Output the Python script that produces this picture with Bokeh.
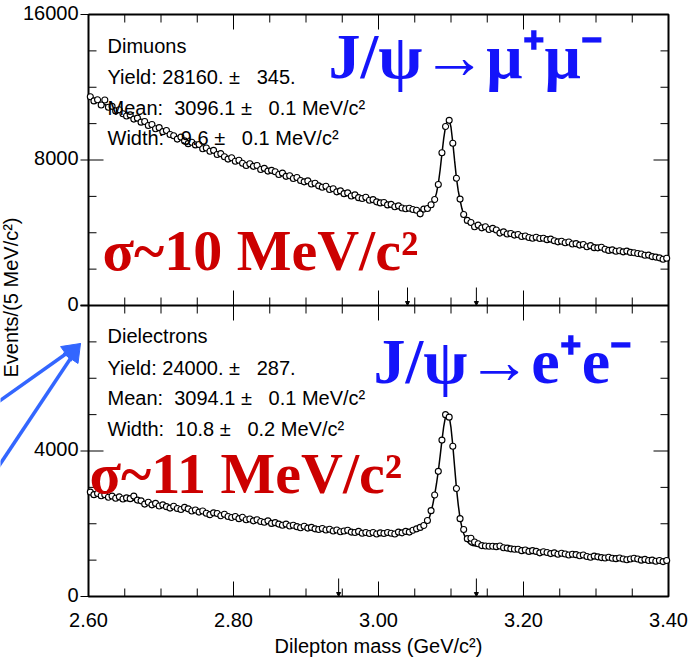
import math
from bokeh.plotting import figure
from bokeh.models import Range1d, Label, Arrow, NormalHead
from bokeh.embed import file_html
from bokeh.resources import INLINE

# ---------------- data ----------------
bin_lo, bin_width, n_bins = 2.600, 0.005, 160
mass = [round(bin_lo + bin_width * (i + 0.5), 4) for i in range(n_bins)]

dimuon_counts = [
    11480, 11250, 11310, 11020, 11300, 10900, 10950, 10700, 10760, 10540,
    10420, 10480, 10250, 10300, 10080, 10120, 9900, 9950, 9720, 9780,
    9560, 9620, 9400, 9330, 9150, 9260, 9050, 8900, 8980, 8830,
    8850, 8620, 8660, 8480, 8530, 8300, 8350, 8180, 8050, 8120,
    7930, 7990, 7820, 7700, 7790, 7650, 7700, 7480, 7540, 7390,
    7430, 7350, 7200, 7280, 7100, 7130, 6980, 7040, 6870, 6800,
    6850, 6680, 6720, 6580, 6500, 6560, 6380, 6420, 6250, 6300,
    6150, 6190, 6020, 6080, 5930, 5880, 5950, 5790, 5820, 5700,
    5640, 5660, 5530, 5560, 5430, 5480, 5360, 5320, 5350, 5280,
    5240, 5040, 5300, 5330, 5540, 5830, 6650, 8400, 9840, 10180,
    8920, 7000, 5850, 5000, 4680, 4560, 4330, 4420, 4270, 4330,
    4180, 4240, 4150, 3980, 4050, 3930, 3960, 3870, 3900, 3790,
    3820, 3740, 3700, 3750, 3680, 3700, 3620, 3650, 3560, 3500,
    3530, 3450, 3490, 3380, 3400, 3320, 3350, 3230, 3290, 3180,
    3170, 3200, 3090, 3030, 3060, 2980, 3010, 2950, 2990, 2920,
    2900, 2860, 2830, 2760, 2770, 2690, 2660, 2620, 2540, 2600]

dimuon_fit_x = [2.60, 2.62, 2.64, 2.66, 2.68, 2.70, 2.72, 2.74, 2.76, 2.78,
                2.80, 2.82, 2.84, 2.86, 2.88, 2.90, 2.92, 2.94, 2.96, 2.98,
                3.00, 3.02, 3.04, 3.05, 3.06, 3.0625, 3.065, 3.0675, 3.07, 3.0725,
                3.075, 3.0775, 3.08, 3.0825, 3.085, 3.0875, 3.09, 3.0925, 3.095, 3.0975,
                3.10, 3.1025, 3.105, 3.1075, 3.11, 3.1125, 3.115, 3.1175, 3.12, 3.1225,
                3.125, 3.1275, 3.13, 3.135, 3.14, 3.16, 3.18, 3.20, 3.22, 3.24,
                3.26, 3.28, 3.30, 3.32, 3.34, 3.36, 3.38, 3.40]
dimuon_fit_y = [11450, 11090, 10730, 10370, 10020, 9670, 9320, 8970, 8650, 8340,
                8020, 7760, 7520, 7290, 7060, 6820, 6580, 6340, 6110, 5900,
                5700, 5500, 5350, 5290, 5250, 5270, 5300, 5340, 5400, 5490,
                5620, 5850, 6180, 6700, 7450, 8350, 9200, 9850, 10200, 10220,
                9800, 8950, 7950, 7000, 6300, 5800, 5330, 5000, 4780, 4640,
                4560, 4500, 4450, 4380, 4320, 4140, 3930, 3810, 3690, 3570,
                3450, 3320, 3190, 3060, 2950, 2830, 2700, 2570]

dielectron_counts = [
    2870, 2800, 2830, 2770, 2800, 2730, 2760, 2700, 2740, 2680,
    2710, 2690, 2760, 2650, 2630, 2540, 2590, 2520, 2560, 2490,
    2520, 2470, 2430, 2480, 2420, 2390, 2450, 2410, 2350, 2380,
    2320, 2350, 2290, 2250, 2300, 2280, 2220, 2260, 2200, 2170,
    2200, 2140, 2180, 2110, 2130, 2080, 2110, 2060, 2040, 2080,
    2010, 2030, 1990, 1960, 1990, 1940, 1960, 1920, 1890, 1930,
    1880, 1900, 1860, 1840, 1870, 1830, 1850, 1800, 1830, 1780,
    1800, 1820, 1770, 1760, 1790, 1740, 1760, 1730, 1760, 1720,
    1750, 1730, 1760, 1740, 1720, 1770, 1750, 1790, 1770, 1820,
    1860, 1900, 1950, 2090, 2360, 2790, 3440, 4300, 5000, 4930,
    4130, 2970, 2140, 1840, 1590, 1600, 1500, 1450, 1400, 1390,
    1380, 1380, 1370, 1390, 1340, 1330, 1310, 1300, 1300, 1260,
    1280, 1240, 1260, 1240, 1200, 1230, 1210, 1180, 1200, 1160,
    1190, 1170, 1140, 1160, 1150, 1120, 1140, 1100, 1080, 1110,
    1090, 1070, 1060, 1080, 1050, 1040, 1060, 1030, 1010, 1030,
    1050, 1030, 1000, 1020, 990, 1000, 970, 990, 960, 990]

dielectron_fit_x = dimuon_fit_x
dielectron_fit_y = [2850, 2790, 2720, 2650, 2580, 2510, 2450, 2390, 2320, 2250,
                    2190, 2130, 2070, 2010, 1950, 1900, 1860, 1820, 1790, 1760,
                    1740, 1740, 1770, 1810, 1880, 1910, 1960, 2040, 2160, 2330,
                    2540, 2800, 3100, 3450, 3860, 4290, 4680, 4950, 5040, 4950,
                    4640, 4150, 3560, 2980, 2520, 2150, 1900, 1730, 1600, 1510,
                    1455, 1420, 1400, 1385, 1370, 1340, 1310, 1260, 1220, 1185,
                    1155, 1120, 1090, 1060, 1035, 1010, 990, 970]

x_major = [2.60, 2.80, 3.00, 3.20, 3.40]
x_minor = [2.65, 2.70, 2.75, 2.85, 2.90, 2.95, 3.05, 3.10, 3.15, 3.25, 3.30, 3.35]
top_y_major = [0, 8000, 16000]
top_y_minor = [2000, 4000, 6000, 10000, 12000, 14000]
bot_y_major = [0, 4000]
bot_y_minor = [1000, 2000, 3000, 5000, 6000, 7000]
top_window = [3.04, 3.135]
bot_window = [2.945, 3.135]

NB = "\u00a0"
top_info = ["Dimuons", f"Yield: 28160. \u00b1{NB}{NB} 345.",
            f"Mean:{NB} 3096.1 \u00b1{NB}{NB} 0.1 MeV/c\u00b2",
            f"Width:{NB}{NB} 9.6 \u00b1{NB}{NB} 0.1 MeV/c\u00b2"]
bot_info = ["Dielectrons", f"Yield: 24000. \u00b1{NB}{NB} 287.",
            f"Mean:{NB} 3094.1 \u00b1{NB}{NB} 0.1 MeV/c\u00b2",
            f"Width:{NB} 10.8 \u00b1{NB}{NB} 0.2 MeV/c\u00b2"]
top_title = "J/\u03c8\u2192\u03bc\u207a\u03bc\u207b"
bot_title = "J/\u03c8\u2192e\u207ae\u207b"
top_res = "\u03c3~10 MeV/c\u00b2"
bot_res = "\u03c3~11 MeV/c\u00b2"
x_title = "Dilepton mass (GeV/c\u00b2)"
y_title = "Events/(5 MeV/c\u00b2)"

# ---------------- layout constants (page pixels) ----------------
W, H = 688, 661
BOX_L, BOX_R, BOX_T, BOX_B = 88, 668, 14, 596
X_LO, X_HI = 2.60, 3.40
TOP_LO, TOP_HI = -16000, 16000          # upper panel occupies the upper half of this range
BOT_LO, BOT_HI = 0, 16000               # lower panel occupies the lower half of this range
KX = (X_HI - X_LO) / (BOX_R - BOX_L)              # data units per pixel, x
KY = (TOP_HI - TOP_LO) / (BOX_B - BOX_T)          # data units per pixel, y (default range)
KYB = (BOT_HI - BOT_LO) / (BOX_B - BOX_T)         # data units per pixel, y ("bot" range)

# the frame covers the whole page, so that marks outside the plotting box are drawn
p = figure(width=W, height=H,
           x_range=Range1d(X_LO - BOX_L * KX, X_HI + (W - BOX_R) * KX),
           y_range=Range1d(TOP_LO - (H - BOX_B) * KY, TOP_HI + BOX_T * KY),
           output_backend="svg", toolbar_location=None,
           x_axis_location=None, y_axis_location=None,
           min_border_left=0, min_border_right=0, min_border_top=0, min_border_bottom=0)
p.extra_y_ranges = {"bot": Range1d(BOT_LO - (H - BOX_B) * KYB, BOT_HI + BOX_T * KYB)}
p.grid.visible = False
p.outline_line_color = None
p.background_fill_color = "white"
p.border_fill_color = "white"

def bot_pos(v):
    return 2 * v - 16000

def px_x(px):
    return X_LO + (px - BOX_L) * KX

def px_y(py):
    return TOP_HI - (py - BOX_T) * KY

FONT = "Liberation Sans"
MAJ, MIN, OUT = 15, 8, 8

# ---- plotting box, separator and ticks ----
p.line(x=[X_LO, X_HI, X_HI, X_LO, X_LO], y=[TOP_HI, TOP_HI, TOP_LO, TOP_LO, TOP_HI],
       line_color="black", line_width=2)
p.line(x=[X_LO - OUT * KX, X_HI], y=[0, 0], line_color="black", line_width=2)

def hticks(vals, x0, x1, **kw):
    p.segment(x0=x0, x1=x1, y0=vals, y1=vals, line_color="black", line_width=1, **kw)

def vticks(vals, y0, y1):
    p.segment(x0=vals, x1=vals, y0=y0, y1=y1, line_color="black", line_width=1)

# left and right
hticks(top_y_major, X_LO - OUT * KX, X_LO + MAJ * KX)
hticks(top_y_minor, X_LO, X_LO + MIN * KX)
hticks(bot_y_major, X_LO - OUT * KX, X_LO + MAJ * KX, y_range_name="bot")
hticks(bot_y_minor, X_LO, X_LO + MIN * KX, y_range_name="bot")
hticks(top_y_major, X_HI - MAJ * KX, X_HI)
hticks(top_y_minor, X_HI - MIN * KX, X_HI)
hticks(bot_y_major, X_HI - MAJ * KX, X_HI, y_range_name="bot")
hticks(bot_y_minor, X_HI - MIN * KX, X_HI, y_range_name="bot")
# top, bottom and separator
vticks(x_major, TOP_HI, TOP_HI - MAJ * KY)
vticks(x_minor, TOP_HI, TOP_HI - MIN * KY)
vticks(x_major, TOP_LO, TOP_LO + MAJ * KY)
vticks(x_minor, TOP_LO, TOP_LO + MIN * KY)
vticks(x_major, -MAJ * KY, MAJ * KY)
vticks(x_minor, -MIN * KY, MIN * KY)

# tick labels
def label(x, y, s, xo=0, yo=0, align="left", size=20, **kw):
    p.add_layout(Label(x=x, y=y, x_offset=xo, y_offset=yo, text=s, text_font=FONT,
                       text_font_size=f"{size}px", text_color="black",
                       text_align=align, text_baseline="alphabetic", **kw))

for v in top_y_major:
    label(X_LO, v, str(v), xo=-10, yo=2, align="right")
for v in bot_y_major:
    label(X_LO, bot_pos(v), str(v), xo=-10, yo=2, align="right")
for v in x_major:
    label(v, TOP_LO, f"{v:.2f}", yo=-23, align="center")
label((X_LO + X_HI) / 2, TOP_LO, x_title, yo=-49, align="center")

# ---- fit curves and data ----
p.line(dimuon_fit_x, dimuon_fit_y, line_color="black", line_width=1.5)
p.scatter(mass, dimuon_counts, marker="circle", size=6, fill_color="white",
          line_color="black", line_width=1.1)
p.line(dielectron_fit_x, dielectron_fit_y, line_color="black", line_width=1.5, y_range_name="bot")
p.scatter(mass, dielectron_counts, marker="circle", size=6, fill_color="white",
          line_color="black", line_width=1.1, y_range_name="bot")

# fit window markers
for xw in top_window:
    p.add_layout(Arrow(x_start=xw, y_start=18 * KY, x_end=xw, y_end=0, line_width=1,
                       end=NormalHead(size=4, fill_color="black", line_color="black")))
for xw in bot_window:
    p.add_layout(Arrow(x_start=xw, y_start=TOP_LO + 18 * KY, x_end=xw, y_end=TOP_LO,
                       line_width=1, end=NormalHead(size=4, fill_color="black",
                                                    line_color="black")))

# ---- annotation texts ----
def txt(x, y, s, size, color="black", font=FONT, style="normal", shift=None):
    sh = 0.35 * size if shift is None else shift
    p.add_layout(Label(x=px_x(x), y=px_y(y - sh), text=s, text_font=font,
                       text_font_size=f"{size}px", text_color=color, text_font_style=style,
                       text_align="left", text_baseline="alphabetic"))

for s, yy in zip(top_info, [54, 85, 116, 146]):
    txt(107, yy, s, 20, shift=9)
for s, yy in zip(bot_info, [344, 376, 406, 437]):
    txt(107, yy, s, 20, shift=9)

BLUE = "#1414fa"
RED = "#cc0000"
txt(328, 78, top_title, 64, BLUE, "Liberation Serif", "bold")
txt(373, 383, bot_title, 64, BLUE, "Liberation Serif", "bold")
txt(102, 270, top_res, 58, RED, "Liberation Serif", "bold")
txt(89, 493, bot_res, 58, RED, "Liberation Serif", "bold")

# y-axis title, vertical, at the left page edge
p.add_layout(Label(x=px_x(10), y=px_y(297), text=y_title, angle=math.pi / 2,
                   text_font=FONT, text_font_size="20px", text_color="black",
                   text_align="center", text_baseline="alphabetic"))

# blue pointer arrows
ARW = "#3366ff"
tip = (80, 343)
for start in [(-20, 414), (-20, 493)]:
    p.add_layout(Arrow(x_start=px_x(start[0]), y_start=px_y(start[1]),
                       x_end=px_x(tip[0]), y_end=px_y(tip[1]),
                       line_color=ARW, line_width=3.5,
                       end=NormalHead(size=18, fill_color=ARW, line_color=ARW)))

open("out.html", "w").write(file_html(p, INLINE))
